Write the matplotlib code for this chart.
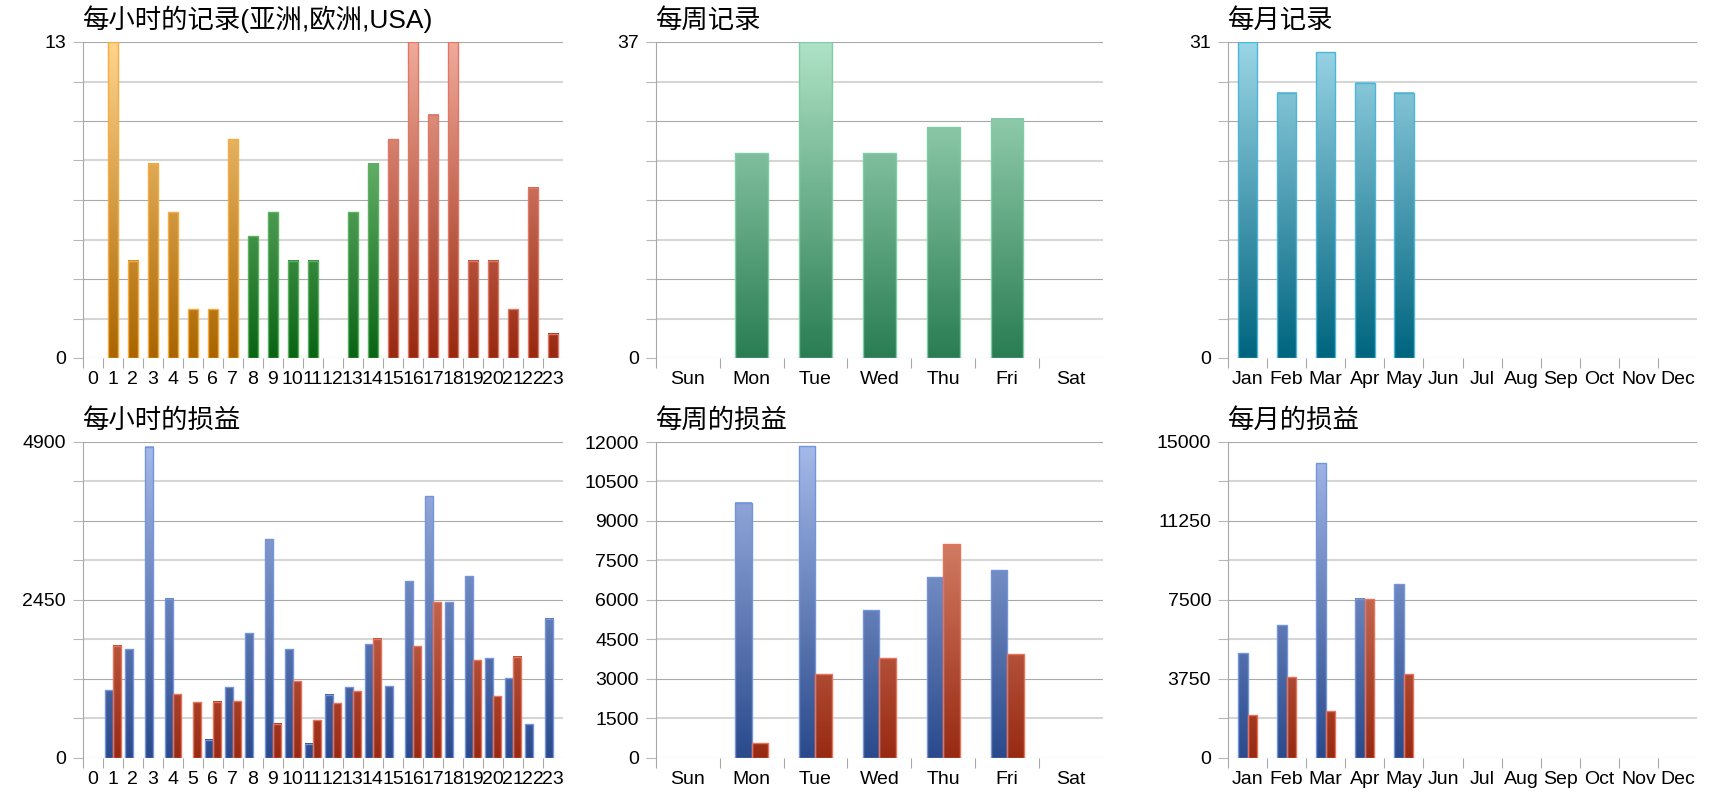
import numpy as np
import matplotlib
matplotlib.use('Agg')
import matplotlib.pyplot as plt
from matplotlib.colors import LinearSegmentedColormap

plt.rcParams['font.family'] = ['Liberation Sans', 'Noto Sans CJK SC', 'DejaVu Sans']

# data
hours = [str(h) for h in range(24)]
hour_records = [0, 13, 4, 8, 6, 2, 2, 9, 5, 6, 4, 4, 0, 6, 8, 9, 13, 10, 13, 4, 4, 2, 7, 1]
asia_hours = list(range(0, 8))
europe_hours = list(range(8, 15))
usa_hours = list(range(15, 24))
hour_pl_blue = [0, 1050, 1690, 4830, 2470, 0, 280, 1090, 1940, 3390, 1690, 220,
                980, 1090, 1760, 1110, 2740, 4060, 2420, 2820, 1540, 1230, 520, 2160]
hour_pl_red = [0, 1740, 0, 0, 990, 860, 870, 880, 0, 530, 1190, 580,
               845, 1035, 1850, 0, 1730, 2420, 0, 1510, 950, 1570, 0, 0]

days = ['Sun', 'Mon', 'Tue', 'Wed', 'Thu', 'Fri', 'Sat']
day_records = [0, 24, 37, 24, 27, 28, 0]
day_pl_blue = [0, 9700, 11850, 5600, 6870, 7130, 0]
day_pl_red = [0, 550, 3180, 3780, 8120, 3950, 0]

months = ['Jan', 'Feb', 'Mar', 'Apr', 'May', 'Jun', 'Jul', 'Aug', 'Sep', 'Oct', 'Nov', 'Dec']
month_records = [31, 26, 30, 27, 26, 0, 0, 0, 0, 0, 0, 0]
month_pl_blue = [4960, 6300, 14000, 7560, 8230, 0, 0, 0, 0, 0, 0, 0]
month_pl_red = [2010, 3820, 2200, 7520, 3960, 0, 0, 0, 0, 0, 0, 0]

titles = ['每小时的记录(亚洲,欧洲,USA)', '每周记录', '每月记录',
          '每小时的损益', '每周的损益', '每月的损益']


def cm(bottom, top):
    return LinearSegmentedColormap.from_list('g', [bottom, top])


c_orange = cm('#aa6500', '#ffd48c')
c_green = cm('#0a6414', '#99d99b')
c_usa = cm('#982810', '#f0aa9a')
c_week = cm('#2a7d52', '#aee2c6')
c_teal = cm('#00657f', '#9ad5e6')
c_blue = cm('#2a4a8c', '#a6baea')
c_red = cm('#982a12', '#eda088')


def grad_bars(ax, x, heights, width, cmap, ymax, edge):
    xs, hs = [], []
    for xi, h in zip(x, heights):
        if h <= 0:
            continue
        g = np.linspace(0, h / ymax, 100).reshape(-1, 1)
        ax.imshow(g, cmap=cmap, vmin=0, vmax=1, origin='lower', aspect='auto',
                  extent=(xi - width / 2, xi + width / 2, 0, h), zorder=2,
                  interpolation='bilinear')
        xs.append(xi)
        hs.append(h)
    ax.bar(xs, hs, width, facecolor='none', edgecolor=edge, linewidth=1.0, zorder=3)


def style_axis(ax, labels, ymax, shown, title):
    n = len(labels)
    ax.set_xlim(-0.5, n - 0.5)
    ax.set_ylim(0, ymax)
    ax.set_xticks(range(n))
    ax.set_xticklabels(labels)
    ax.set_xticks(np.arange(-0.5, n - 1), minor=True)
    ax.tick_params(axis='x', which='major', length=0, pad=9.5, labelsize=14)
    ax.tick_params(axis='x', which='minor', length=7.2, color='#a8a8a8', width=0.8)
    yt = np.linspace(0, ymax, 9)
    ax.set_yticks(yt)
    ax.set_yticklabels([str(int(round(v))) if int(round(v)) in shown else '' for v in yt])
    ax.tick_params(axis='y', length=7.2, color='#b8b8b8', width=0.8, pad=5, labelsize=14)
    for i, v in enumerate(yt):
        if i % 2 == 0:
            ax.axhline(v, color='#a8a8a8', lw=0.8, zorder=1)
        else:
            ax.axhline(v, color='#d6d6d6', lw=1.5, zorder=1)
    for s in ['top', 'right', 'bottom']:
        ax.spines[s].set_visible(False)
    ax.spines['left'].set_color('#a8a8a8')
    ax.spines['left'].set_linewidth(0.8)
    ax.set_title(title, loc='left', pad=10, fontsize=19)


fig = plt.figure(figsize=(17.2, 8), dpi=100)
cols = [(82.7, 480.3), (655.7, 447.3), (1228, 469)]
rows = [(42, 316), (442, 315.7)]
axs = []
for top, h in rows:
    for left, w in cols:
        axs.append(fig.add_axes([left / 1720, 1 - (top + h) / 800, w / 1720, h / 800]))

# hourly records by region
ax = axs[0]
grad_bars(ax, asia_hours, [hour_records[i] for i in asia_hours], 0.5, c_orange, 13, '#f8ac40')
grad_bars(ax, europe_hours, [hour_records[i] for i in europe_hours], 0.5, c_green, 13, '#5ab25e')
grad_bars(ax, usa_hours, [hour_records[i] for i in usa_hours], 0.5, c_usa, 13, '#e07864')
style_axis(ax, hours, 13, [0, 13], titles[0])

ax = axs[1]
grad_bars(ax, range(7), day_records, 0.51, c_week, 37, '#80cca4')
style_axis(ax, days, 37, [0, 37], titles[1])

ax = axs[2]
grad_bars(ax, range(12), month_records, 0.5, c_teal, 31, '#4cb6d8')
style_axis(ax, months, 31, [0, 31], titles[2])

ax = axs[3]
x = np.arange(24)
grad_bars(ax, x - 0.2, hour_pl_blue, 0.4, c_blue, 4900, '#7494dc')
grad_bars(ax, x + 0.2, hour_pl_red, 0.4, c_red, 4900, '#e8735a')
style_axis(ax, hours, 4900, [0, 2450, 4900], titles[3])

ax = axs[4]
x = np.arange(7)
grad_bars(ax, x - 0.13, day_pl_blue, 0.26, c_blue, 12000, '#7494dc')
grad_bars(ax, x + 0.13, day_pl_red, 0.26, c_red, 12000, '#e8735a')
style_axis(ax, days, 12000, list(range(0, 12001, 1500)), titles[4])

ax = axs[5]
x = np.arange(12)
grad_bars(ax, x - 0.12, month_pl_blue, 0.24, c_blue, 15000, '#7494dc')
grad_bars(ax, x + 0.12, month_pl_red, 0.24, c_red, 15000, '#e8735a')
style_axis(ax, months, 15000, [0, 3750, 7500, 11250, 15000], titles[5])

fig.savefig('out.png', dpi=100)
